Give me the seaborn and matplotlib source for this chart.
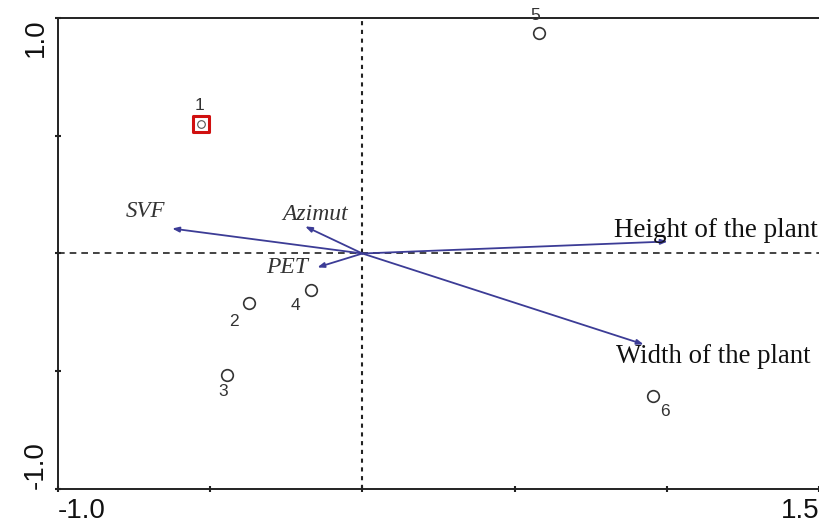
import matplotlib
matplotlib.use("Agg")
import matplotlib.pyplot as plt
import seaborn as sns
import pandas as pd

# Sample scores
sample_ids = ["1", "2", "3", "4", "5", "6"]
sample_x = [-0.53, -0.372, -0.444, -0.168, 0.579, 0.954]
sample_y = [0.548, -0.212, -0.518, -0.157, 0.938, -0.607]

# Environmental variable arrows
var_names = ["SVF", "Azimut", "PET", "Height of the plant", "Width of the plant"]
var_x = [-0.625, -0.188, -0.148, 1.003, 0.924]
var_y = [0.106, 0.115, -0.059, 0.051, -0.386]

x_ticks = [-1.0, -0.5, 0.0, 0.5, 1.0, 1.5]
y_ticks = [-1.0, -0.5, 0.0, 0.5, 1.0]

sns.set_style("white")
fig = plt.figure(figsize=(8.19, 5.25), dpi=100)
ax = fig.add_axes([0.0708, 0.0686, 0.9292, 0.8971])

df = pd.DataFrame({"id": sample_ids, "x": sample_x, "y": sample_y})
sns.scatterplot(data=df[df.id != "1"], x="x", y="y", ax=ax, marker="o", s=70,
                facecolor="white", edgecolor="#333333", linewidth=1.2, zorder=4)
# highlighted sample 1
sns.scatterplot(data=df[df.id == "1"], x="x", y="y", ax=ax, marker="s", s=130,
                facecolor="white", edgecolor="#d01010", linewidth=2.2, zorder=4)
sns.scatterplot(data=df[df.id == "1"], x="x", y="y", ax=ax, marker="o", s=30,
                facecolor="white", edgecolor="#555555", linewidth=0.8, zorder=5)

ax.axhline(0, color="#222222", ls=(0, (4, 3)), lw=1.2, zorder=1)
ax.axvline(0, color="#222222", ls=(0, (2, 2.2)), lw=1.5, zorder=1)

arrow_color = "#3c3c96"
for name, vx, vy in zip(var_names, var_x, var_y):
    ax.annotate("", xy=(vx, vy), xytext=(0, 0),
                arrowprops=dict(arrowstyle="-|>,head_length=0.4,head_width=0.15",
                                color=arrow_color, lw=1.3, shrinkA=0, shrinkB=0),
                zorder=3)

serif = ["Liberation Serif", "DejaVu Serif"]
ax.text(-0.648, 0.132, "SVF", family=serif, style="italic", fontsize=16.5,
        color="#333333", ha="right", va="bottom")
ax.text(-0.262, 0.123, "Azimut", family=serif, style="italic", fontsize=17,
        color="#333333", ha="left", va="bottom")
ax.text(-0.315, -0.102, "PET", family=serif, style="italic", fontsize=17,
        color="#333333", ha="left", va="bottom")
ax.text(0.826, 0.072, "Height of the plant", family=serif, fontsize=19.5,
        color="#111111", ha="left", va="baseline")
ax.text(0.832, -0.463, "Width of the plant", family=serif, fontsize=19.3,
        color="#111111", ha="left", va="baseline")

# sample labels
lab_off = {"1": (-0.006, 0.081), "2": (-0.049, -0.076), "3": (-0.013, -0.068),
           "4": (-0.053, -0.064), "5": (-0.01, 0.072), "6": (0.039, -0.064)}
for sid, sx, sy in zip(sample_ids, sample_x, sample_y):
    dx, dy = lab_off[sid]
    ax.text(sx + dx, sy + dy, sid, family=["Liberation Sans", "DejaVu Sans"],
            fontsize=12.5, color="#333333", ha="center", va="center")

ax.set_xlim(-1.0, 1.5)
ax.set_ylim(-1.0, 1.0)
ax.set_xticks(x_ticks)
ax.set_yticks(y_ticks)
ax.set_xticklabels(["-1.0", "", "", "", "", "1.5"])
ax.set_yticklabels(["-1.0", "", "", "", "1.0"], rotation=90)
ax.tick_params(axis="both", direction="inout", length=5, width=1.5, color="#222222",
               labelsize=20, pad=4, bottom=True, left=True, labelcolor="#111111")
for lab in ax.get_xticklabels() + ax.get_yticklabels():
    lab.set_family(["Liberation Sans", "DejaVu Sans"])
xl = ax.get_xticklabels()
xl[0].set_ha("left")
xl[-1].set_ha("right")
yl = ax.get_yticklabels()
yl[0].set_va("bottom")
yl[-1].set_va("top")
ax.set_xlabel("")
ax.set_ylabel("")
for side in ["left", "bottom", "top"]:
    ax.spines[side].set_color("#222222")
    ax.spines[side].set_linewidth(1.4)
ax.spines["right"].set_visible(False)

fig.savefig("out.png", dpi=100)
